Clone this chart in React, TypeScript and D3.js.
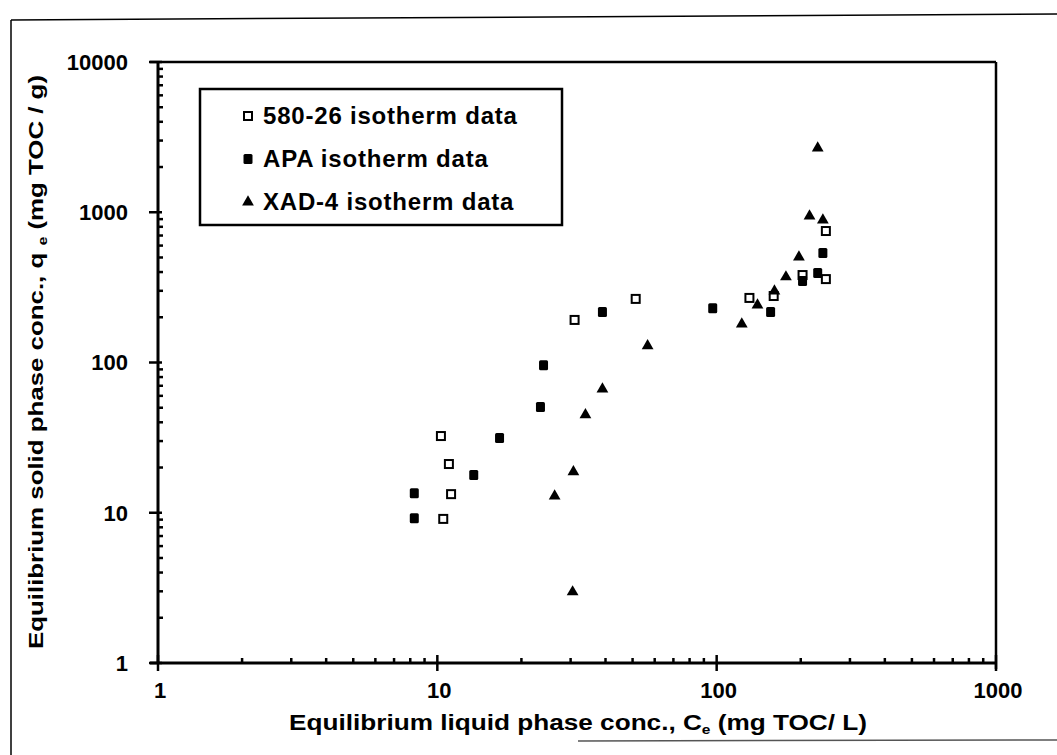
import React from 'react';
import * as d3 from 'd3';

// 580-26 isotherm data (open squares)
const resinX = [10.3, 11.0, 11.2, 10.5, 31.0, 51.3, 131, 160, 203, 246, 246];
const resinY = [32.4, 21.1, 13.3, 9.1, 192, 265, 269, 277, 382, 750, 359];

// APA isotherm data (filled squares)
const apaX = [8.27, 8.27, 13.5, 16.7, 23.4, 24.0, 39.0, 96.8, 156, 203, 230, 240];
const apaY = [13.5, 9.2, 17.8, 31.4, 50.6, 96, 217, 230, 217, 349, 394, 535];

// XAD-4 isotherm data (triangles)
const xadX = [230, 215, 240, 197, 177, 161, 140, 123, 56.6, 39.0, 33.9, 30.7, 26.3, 30.5];
const xadY = [2677, 944, 888, 503, 371, 299, 241, 180, 129, 66.6, 44.8, 18.7, 12.9, 2.97];

const xTickLabels = ['1', '10', '100', '1000'];
const yTickLabels = ['1', '10', '100', '1000', '10000'];
const legendLabels = ['580-26 isotherm data', 'APA isotherm data', 'XAD-4 isotherm data'];

const W = 1057;
const H = 755;
const left = 158, right = 996, top = 62, bottom = 663;
const font = '"Liberation Sans", Arial, Helvetica, sans-serif';

const Marker: React.FC<{ kind: string; x: number; y: number }> = ({ kind, x, y }) => {
  if (kind === 'open') {
    return <rect x={x - 4} y={y - 4} width={8} height={8} fill="#fff" stroke="#000" strokeWidth={2} />;
  }
  if (kind === 'filled') {
    return <rect x={x - 4.5} y={y - 5} width={9} height={10} rx={1.5} fill="#000" />;
  }
  const tri = d3.symbol().type(d3.symbolTriangle).size(60);
  return <path d={tri() as string} transform={`translate(${x},${y})`} fill="#000" />;
};

const App: React.FC = () => {
  const x = d3.scaleLog().domain([1, 1000]).range([left, right]);
  const y = d3.scaleLog().domain([1, 10000]).range([bottom, top]);

  const xTicks = x.ticks();
  const yTicks = y.ticks();
  const isMajor = (v: number) => Math.abs(Math.log10(v) - Math.round(Math.log10(v))) < 1e-9;

  const series = [
    { kind: 'open', xs: resinX, ys: resinY },
    { kind: 'filled', xs: apaX, ys: apaY },
    { kind: 'tri', xs: xadX, ys: xadY },
  ];

  return (
    <svg width={W} height={H} style={{ position: 'absolute', left: 0, top: 0, background: '#fff' }}
      fontFamily={font} fontWeight="bold">
      {/* outer frame (scanned page look) */}
      <line x1={11} y1={20} x2={11} y2={755} stroke="#000" strokeWidth={1.5} />
      <line x1={11} y1={20} x2={W} y2={14} stroke="#000" strokeWidth={1.5} />
      <line x1={578} y1={741} x2={W} y2={740} stroke="#555" strokeWidth={1.5} />

      {/* plot border */}
      <line x1={left - 8} y1={top} x2={right} y2={top} stroke="#000" strokeWidth={2.5} />
      <line x1={right} y1={top} x2={right} y2={bottom + 6} stroke="#000" strokeWidth={2.5} />

      {/* y axis */}
      <line x1={left} y1={top} x2={left} y2={bottom} stroke="#000" strokeWidth={3} />
      {yTicks.map((v, i) => (
        isMajor(v)
          ? <line key={i} x1={left - 9} x2={left + 4} y1={y(v)} y2={y(v)} stroke="#000" strokeWidth={2.5} />
          : <line key={i} x1={left} x2={left + 5} y1={y(v)} y2={y(v)} stroke="#000" strokeWidth={2.5} />
      ))}
      {yTickLabels.map((t) => (
        <text key={t} x={128} y={y(+t)} dy="0.36em" textAnchor="end" fontSize={22}>{t}</text>
      ))}

      {/* x axis */}
      <line x1={left - 8} y1={bottom} x2={right} y2={bottom} stroke="#000" strokeWidth={3} />
      {xTicks.map((v, i) => (
        isMajor(v)
          ? <line key={i} x1={x(v)} x2={x(v)} y1={bottom - 8} y2={bottom + 8} stroke="#000" strokeWidth={2.5} />
          : <line key={i} x1={x(v)} x2={x(v)} y1={bottom - 5} y2={bottom} stroke="#000" strokeWidth={2.5} />
      ))}
      {xTickLabels.map((t) => (
        <text key={t} x={x(+t) + 2} y={698} textAnchor="middle" fontSize={22}>{t}</text>
      ))}

      {/* axis titles */}
      <text x={578} y={730} textAnchor="middle" fontSize={22} textLength={578} lengthAdjust="spacingAndGlyphs">
        Equilibrium liquid phase conc., C<tspan fontSize={13} dy={4}>e</tspan><tspan dy={-4}> (mg TOC/ L)</tspan>
      </text>
      <text transform="translate(43,362) rotate(-90)" textAnchor="middle" fontSize={21}
        textLength={574} lengthAdjust="spacingAndGlyphs">
        Equilibrium solid phase conc., q <tspan fontSize={13} dy={4}>e</tspan><tspan dy={-4}> (mg TOC / g)</tspan>
      </text>

      {/* data */}
      {series.map((s) => s.xs.map((xv, i) => (
        <Marker key={`${s.kind}-${i}`} kind={s.kind} x={x(xv)} y={y(s.ys[i])} />
      )))}

      {/* legend */}
      <rect x={200} y={89} width={362} height={136} fill="#fff" stroke="#000" strokeWidth={2.5} />
      {legendLabels.map((l, i) => (
        <g key={l}>
          <Marker kind={series[i].kind} x={248} y={116 + i * 43} />
          <text x={263} y={124 + i * 43} fontSize={24} letterSpacing={0.8}>{l}</text>
        </g>
      ))}
    </svg>
  );
};

export default App;
